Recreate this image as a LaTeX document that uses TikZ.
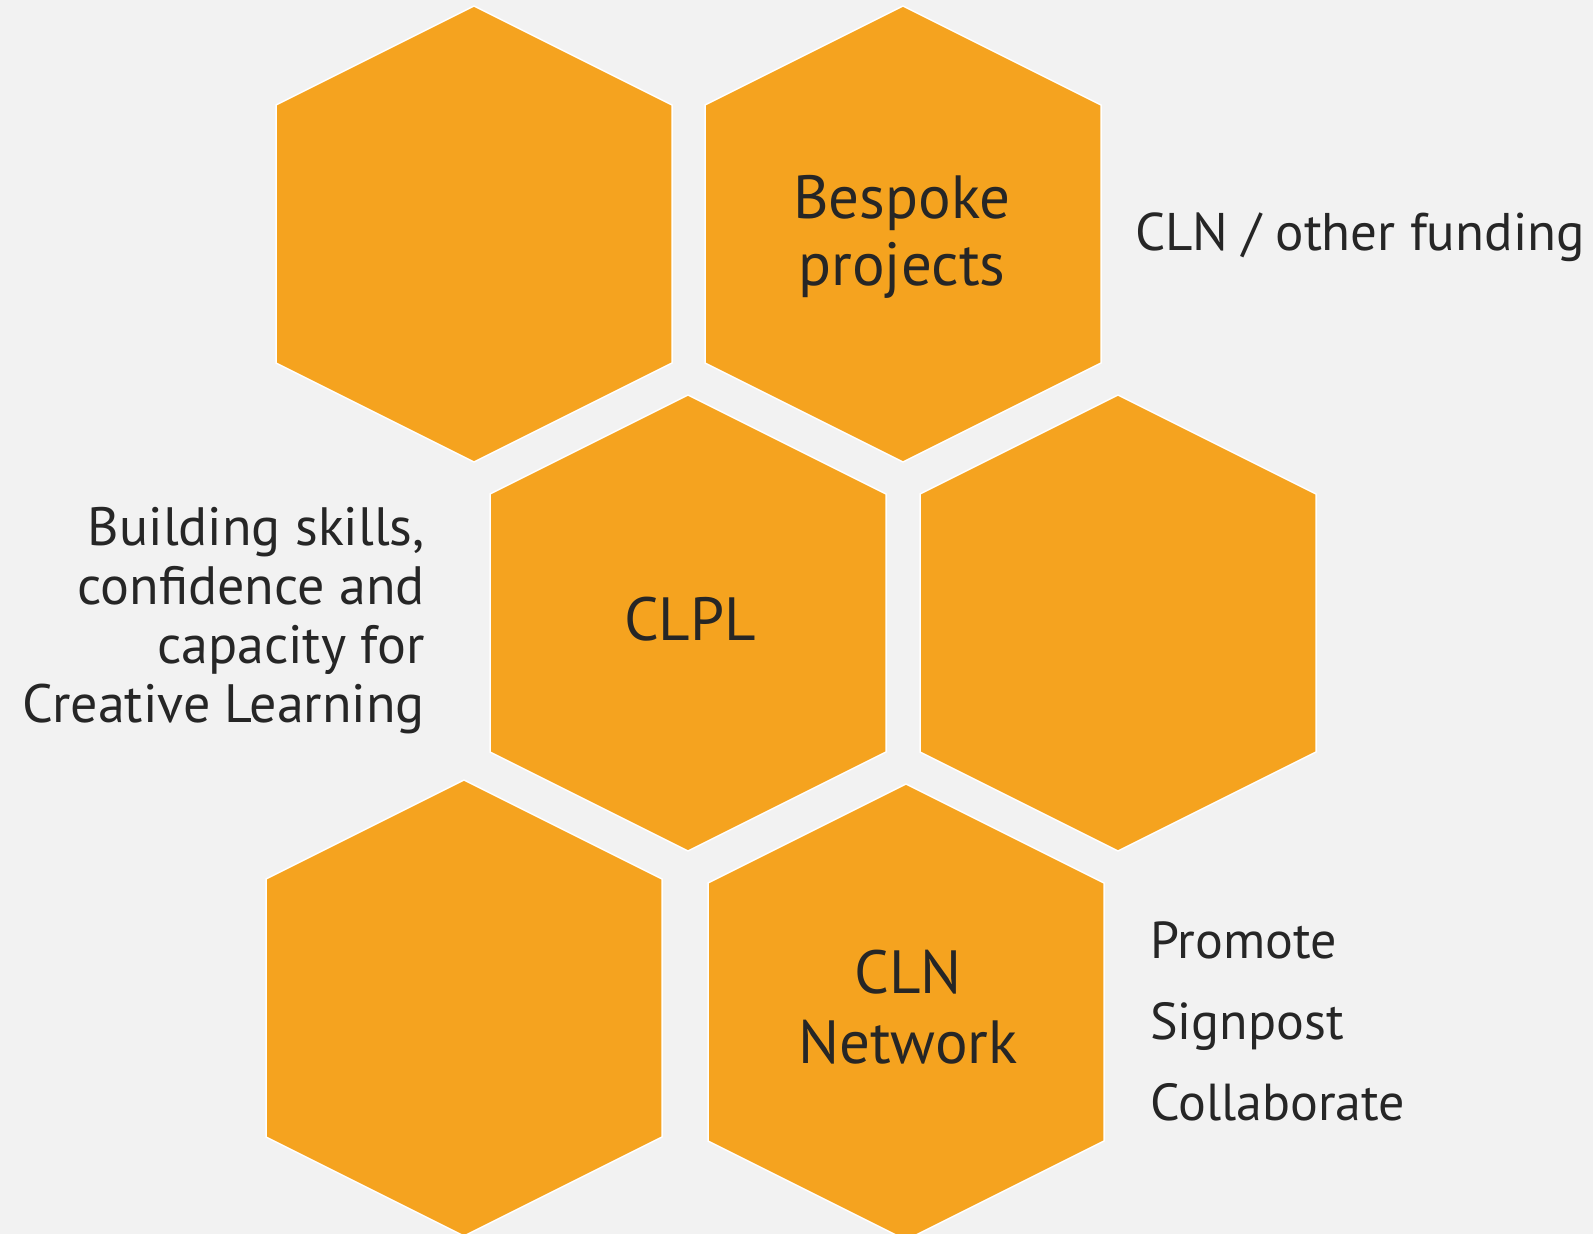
\documentclass[tikz,border=0pt]{standalone}
\usepackage{fontspec}
\setmainfont{PT Sans}
\definecolor{hexfill}{HTML}{F5A31F}
\definecolor{bgcol}{HTML}{F2F2F2}
\definecolor{ink}{HTML}{262626}
\begin{document}
\begin{tikzpicture}[x=1pt,y=-1pt,
  hexcell/.style={fill=hexfill,draw=white,line width=1.5pt,line join=miter},
  inktext/.style={text=ink,inner sep=0pt},
  hextext/.style={inktext,align=center,anchor=base},
]
\useasboundingbox[fill=bgcol] (0,0) rectangle (1593,1234);
\foreach \n/\cx/\ty in {h1/474/6, h2/903/6, h3/688/395, h4/1118/395, h5/464/780, h6/906/784}{
  \draw[hexcell] (\cx,\ty) -- ++(198,99) -- ++(0,258) -- ++(-198,99) -- ++(-198,-99) -- ++(0,-258) -- cycle;
  \coordinate (\n) at (\cx,\ty+228);
}
\node[hextext,font=\fontsize{61}{67}\selectfont] (bespoke) at (902,285) {Bespoke\\projects};
\node[hextext,font=\fontsize{61}{67}\selectfont] (clpl) at (690,640) {CLPL};
\node[hextext,font=\fontsize{61}{70}\selectfont] (cln) at (908,1063) {CLN\\Network};
\node[inktext,anchor=base east,align=right,font=\fontsize{54}{59}\selectfont] (skills) at (425,722)
  {Building skills,\\confidence and\\capacity for\\Creative Learning};
\node[inktext,anchor=base west,font=\fontsize{53}{60}\selectfont] (funding) at (1135,250) {CLN / other funding};
\node[inktext,anchor=base west,align=left,font=\fontsize{52}{81}\selectfont] (actions) at (1150,1120)
  {Promote\\Signpost\\Collaborate};
\end{tikzpicture}
\end{document}
